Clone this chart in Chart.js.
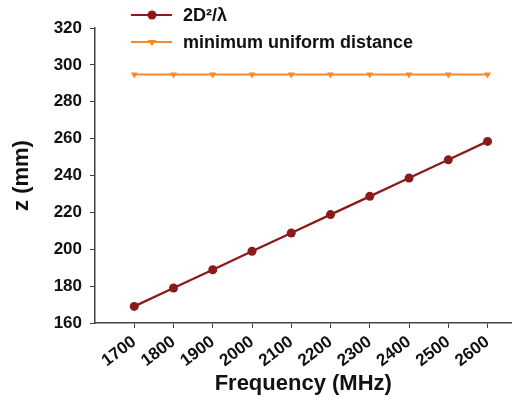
<!DOCTYPE html>
<html>
<head>
<meta charset="utf-8">
<script src="https://cdn.jsdelivr.net/npm/chart.js@4/dist/chart.umd.min.js"></script>
<style>
html, body { margin: 0; padding: 0; background: #fff; overflow: hidden; }
#wrap { position: relative; width: 516px; height: 402px; }
</style>
</head>
<body>
<div id="wrap"><canvas id="myChart" width="516" height="402"></canvas></div>
<script>
const freqs = [1700, 1800, 1900, 2000, 2100, 2200, 2300, 2400, 2500, 2600];
const farField = [169.0, 179.0, 188.9, 198.9, 208.8, 218.8, 228.7, 238.6, 248.5, 258.5];
const uniformDist = [294.8, 294.8, 294.8, 294.8, 294.8, 294.8, 294.8, 294.8, 294.8, 294.8];
const yTicks = [160, 180, 200, 220, 240, 260, 280, 300, 320];
const seriesNames = ['2D²/λ', 'minimum uniform distance'];

const red = '#8b1a1a';
const orange = '#f7892b';
const axisColor = '#404040';
const fontFam = "'Liberation Sans', Arial, sans-serif";

// legend drawn as a vertical list over the top of the plot
const legendList = {
    id: 'legendList',
    afterDraw(chart) {
        const c = chart.ctx;
        const rows = [15, 42];
        c.save();
        chart.data.datasets.forEach((ds, i) => {
            const y = rows[i];
            c.strokeStyle = ds.borderColor;
            c.lineWidth = 2;
            c.beginPath();
            c.moveTo(131, y);
            c.lineTo(172, y);
            c.stroke();
            c.fillStyle = ds.backgroundColor;
            c.beginPath();
            if (i === 0) {
                c.arc(152, y, 4.5, 0, Math.PI * 2);
            } else {
                c.moveTo(147.5, y - 2);
                c.lineTo(156.5, y - 2);
                c.lineTo(152, y + 4);
                c.closePath();
            }
            c.fill();
            c.fillStyle = '#111';
            c.font = 'bold 18px ' + fontFam;
            c.textBaseline = 'middle';
            c.textAlign = 'left';
            c.fillText(seriesNames[i], 183, y + 1);
        });
        c.restore();
    }
};

const ctx = document.getElementById('myChart').getContext('2d');

const myChart = new Chart(ctx, {
    type: 'line',
    data: {
        datasets: [{
            label: seriesNames[0],
            data: freqs.map((f, i) => ({ x: f, y: farField[i] })),
            borderColor: red,
            backgroundColor: red,
            borderWidth: 2.3,
            pointStyle: 'circle',
            pointRadius: 4.5,
            pointBorderWidth: 0
        }, {
            label: seriesNames[1],
            data: freqs.map((f, i) => ({ x: f, y: uniformDist[i] })),
            borderColor: orange,
            backgroundColor: orange,
            borderWidth: 2,
            pointStyle: 'triangle',
            pointRotation: 180,
            pointRadius: 4,
            pointBorderWidth: 0
        }]
    },
    options: {
        responsive: false,
        animation: false,
        layout: { padding: { top: 28, right: 0, left: 0, bottom: 0 } },
        plugins: {
            legend: { display: false },
            tooltip: { enabled: false }
        },
        scales: {
            x: {
                type: 'linear',
                min: 1600,
                max: 2661,
                afterBuildTicks: (scale) => {
                    scale.ticks = freqs.map(v => ({ value: v }));
                },
                afterFit: (scale) => {
                    scale.height = 79;
                    scale.paddingLeft = 0;
                    scale.paddingRight = 0;
                },
                grid: {
                    drawOnChartArea: false,
                    tickLength: 5,
                    color: axisColor,
                    tickColor: axisColor
                },
                border: { color: axisColor, width: 1.5 },
                ticks: {
                    minRotation: 37,
                    maxRotation: 37,
                    autoSkip: false,
                    padding: 4,
                    color: '#111',
                    callback: (v) => String(v),
                    font: { family: fontFam, size: 17, weight: 'bold' }
                },
                title: {
                    display: true,
                    text: 'Frequency (MHz)',
                    color: '#111',
                    padding: { top: 0, bottom: 5 },
                    font: { family: fontFam, size: 22, weight: 'bold' }
                }
            },
            y: {
                min: 160,
                max: 320,
                afterBuildTicks: (scale) => {
                    scale.ticks = yTicks.map(v => ({ value: v }));
                },
                afterFit: (scale) => { scale.width = 95; },
                grid: {
                    drawOnChartArea: false,
                    tickLength: 5,
                    color: axisColor,
                    tickColor: axisColor
                },
                border: { color: axisColor, width: 1.5 },
                ticks: {
                    autoSkip: false,
                    padding: 8,
                    color: '#111',
                    callback: (v) => String(v),
                    font: { family: fontFam, size: 17, weight: 'bold' }
                },
                title: {
                    display: true,
                    text: 'z (mm)',
                    color: '#111',
                    padding: { top: 9, bottom: 0 },
                    font: { family: fontFam, size: 22, weight: 'bold' }
                }
            }
        }
    },
    plugins: [legendList]
});
</script>
</body>
</html>
